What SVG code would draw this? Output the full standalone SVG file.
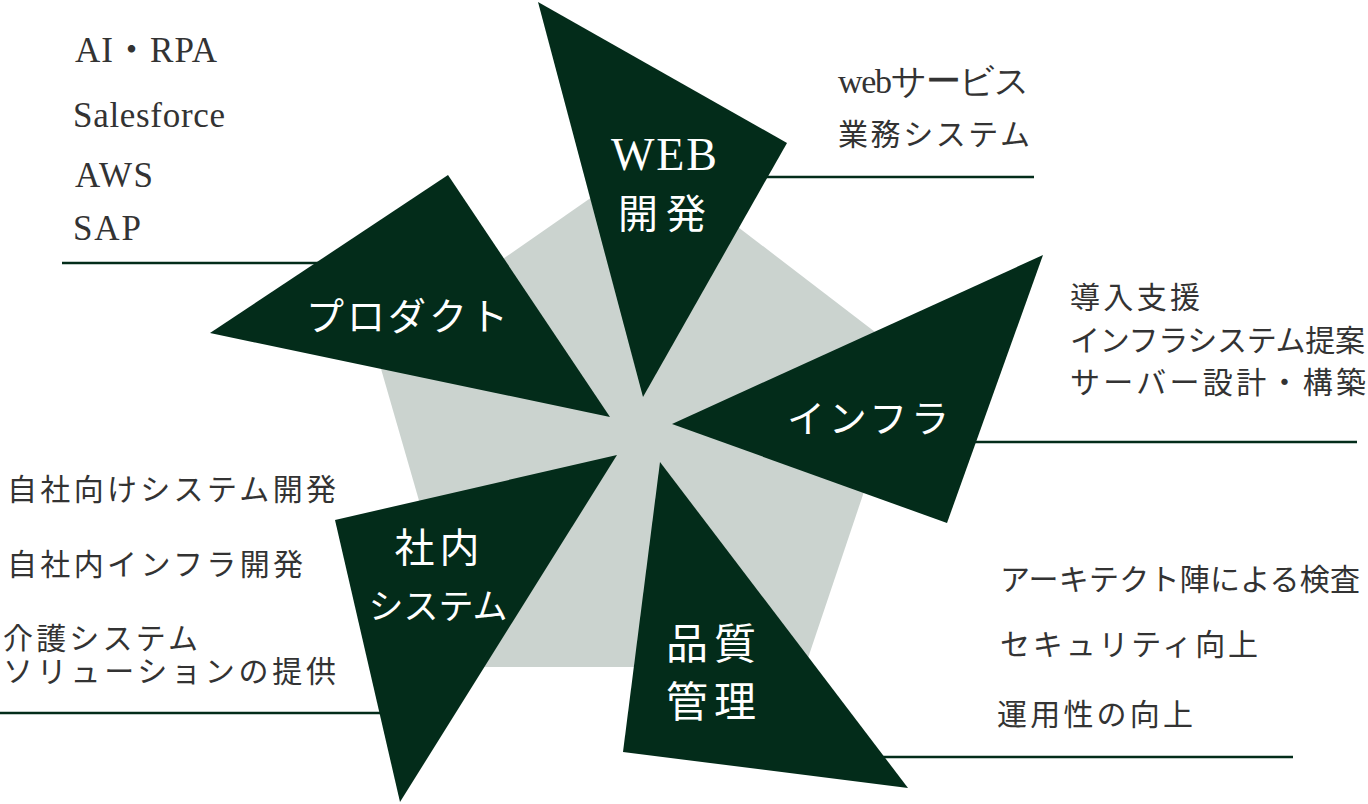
<svg xmlns="http://www.w3.org/2000/svg" width="1368" height="804" viewBox="0 0 1368 804">
  <style>
    .tri { fill: #032c1a; }
    .bg { fill: #cbd3cf; }
    .rule { stroke: #032c1a; stroke-width: 2.5; fill: none; }
    .lbl { fill: #ffffff; font-family: "Noto Sans CJK JP", "Noto Sans", sans-serif; text-anchor: middle; }
    .lblser { fill: #ffffff; font-family: "Liberation Serif", "Noto Sans CJK JP", serif; text-anchor: middle; }
    .item { fill: #333333; font-family: "Liberation Serif", "Noto Sans CJK JP", serif; font-size: 30px; }
    .lat { fill: #333333; font-family: "Liberation Serif", serif; font-size: 35px; }
  </style>
  <rect width="1368" height="804" fill="#ffffff"/>
  <polygon id="pentagon" class="bg" points="648,158 909,358 805,667 467,667 375,348"/>
  <g id="connectors">
    <line class="rule" x1="62" y1="263" x2="340" y2="263"/>
    <line class="rule" x1="740" y1="177" x2="1034" y2="177"/>
    <line class="rule" x1="950" y1="442" x2="1357" y2="442"/>
    <line class="rule" x1="860" y1="757" x2="1293" y2="757"/>
    <line class="rule" x1="0" y1="713" x2="400" y2="713"/>
  </g>
  <g id="node-web">
    <polygon class="tri" points="538,2 787,143 643,397"/>
    <text class="lblser" x="664" y="170" font-size="46" textLength="106" lengthAdjust="spacing">WEB</text>
    <text class="lbl" x="662" y="228" font-size="40" textLength="88" lengthAdjust="spacing">開発</text>
    <text class="lat" x="838" y="93" font-size="30" textLength="192" lengthAdjust="spacing"><tspan font-size="34">web</tspan>サービス</text>
    <text class="item" x="838" y="145" textLength="192" lengthAdjust="spacing">業務システム</text>
  </g>
  <g id="node-product">
    <polygon class="tri" points="448,175 610,417 210,333"/>
    <text class="lbl" x="407" y="330" font-size="38" textLength="202" lengthAdjust="spacing">プロダクト</text>
    <text class="lat" x="75" y="62" textLength="142" lengthAdjust="spacing">AI<tspan font-family="Noto Sans CJK JP, sans-serif">・</tspan>RPA</text>
    <text class="lat" x="73" y="127" textLength="152" lengthAdjust="spacing">Salesforce</text>
    <text class="lat" x="75" y="187" textLength="78" lengthAdjust="spacing">AWS</text>
    <text class="lat" x="73" y="240" textLength="68" lengthAdjust="spacing">SAP</text>
  </g>
  <g id="node-infra">
    <polygon class="tri" points="1043,255 947,523 672,424"/>
    <text class="lbl" x="868" y="432" font-size="38" textLength="162" lengthAdjust="spacing">インフラ</text>
    <text class="item" x="1070" y="308" font-size="30" textLength="130" lengthAdjust="spacing">導入支援</text>
    <text class="item" x="1070" y="351" font-size="29" textLength="295" lengthAdjust="spacing">インフラシステム提案</text>
    <text class="item" x="1070" y="393" font-size="29" textLength="296" lengthAdjust="spacing">サーバー設計・構築</text>
  </g>
  <g id="node-quality">
    <polygon class="tri" points="660,462 908,788 623,752"/>
    <text class="lbl" x="711" y="659" font-size="42" textLength="90" lengthAdjust="spacing">品質</text>
    <text class="lbl" x="711" y="717" font-size="42" textLength="90" lengthAdjust="spacing">管理</text>
    <text class="item" x="1000" y="590" textLength="360" lengthAdjust="spacing">アーキテクト陣による検査</text>
    <text class="item" x="1000" y="655" textLength="258" lengthAdjust="spacing">セキュリティ向上</text>
    <text class="item" x="997" y="725" textLength="196" lengthAdjust="spacing">運用性の向上</text>
  </g>
  <g id="node-internal">
    <polygon class="tri" points="617,455 400,802 335,520"/>
    <text class="lbl" x="437" y="562" font-size="40" textLength="85" lengthAdjust="spacing">社内</text>
    <text class="lbl" x="438" y="619" font-size="35" textLength="139" lengthAdjust="spacing">システム</text>
    <text class="item" x="7" y="500" textLength="329" lengthAdjust="spacing">自社向けシステム開発</text>
    <text class="item" x="7" y="575" textLength="296" lengthAdjust="spacing">自社内インフラ開発</text>
    <text class="item" x="3" y="649" textLength="195" lengthAdjust="spacing">介護システム</text>
    <text class="item" x="3" y="682" textLength="333" lengthAdjust="spacing">ソリューションの提供</text>
  </g>
</svg>
